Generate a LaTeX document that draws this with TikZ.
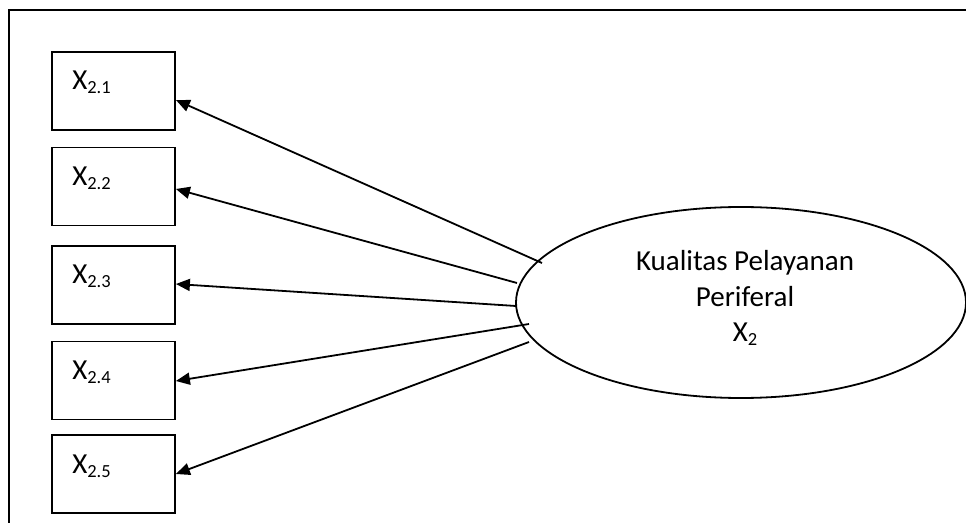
\documentclass[tikz,border=0pt]{standalone}
\usepackage{fontspec}
\setmainfont{Carlito}
\usetikzlibrary{arrows.meta,shapes.geometric,calc}
\newcommand{\xsub}[1]{X{\fontsize{18.5bp}{18.5bp}\selectfont\raisebox{-4bp}{#1}}}
\begin{document}
\begin{tikzpicture}[x=1bp,y=-1bp,
  indbox/.style={draw,line width=1.8bp,minimum width=123bp,minimum height=78bp,inner sep=0,
    label={[lbl]west:#1}},
  lbl/.style={anchor=base west,inner sep=0,xshift=21bp,yshift=1bp,font=\fontsize{29bp}{34bp}\selectfont},
  latent/.style={draw,ellipse,line width=1.8bp,minimum width=450bp,minimum height=191bp,inner sep=0},
  conn/.style={line width=1.8bp,-{Triangle[length=14bp,width=12bp]}},
  frame/.style={line width=2.2bp}]
\useasboundingbox (0,0) rectangle (966,523);
\coordinate (f1) at (9,523);
\coordinate (f2) at (9,10);
\coordinate (f3) at (967,10);
\draw[frame] (f1) -- (f2) -- (f3);
\node[indbox={\xsub{2.1}}] (x1) at (113.5,91) {};
\node[indbox={\xsub{2.2}}] (x2) at (113.5,186.5) {};
\node[indbox={\xsub{2.3}}] (x3) at (113.5,285) {};
\node[indbox={\xsub{2.4}}] (x4) at (113.5,380.5) {};
\node[indbox={\xsub{2.5}}] (x5) at (113.5,474) {};
\node[latent] (k) at (741,302.5) {};
\node[align=center,inner sep=0,font=\fontsize{29bp}{35.5bp}\selectfont,anchor=base] (kt) at (745,342) {Kualitas Pelayanan\\Periferal\\\xsub{2}};
\coordinate (s1) at (542,263);
\coordinate (s2) at (517,283);
\coordinate (s3) at (516,306);
\coordinate (s4) at (529,324);
\coordinate (s5) at (529,342);
\draw[conn] (s1) -- ($(x1.east)+(0,9)$);
\draw[conn] (s2) -- ($(x2.east)+(0,2.5)$);
\draw[conn] (s3) -- ($(x3.east)+(0,-1)$);
\draw[conn] (s4) -- ($(x4.east)+(0,0.5)$);
\draw[conn] (s5) -- (x5.east);
\end{tikzpicture}
\end{document}
